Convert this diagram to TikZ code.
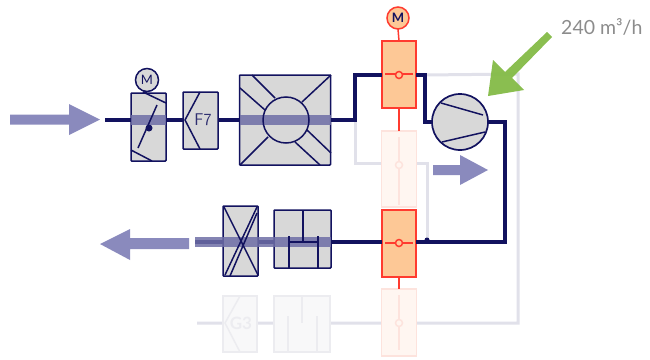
\documentclass[tikz,border=0pt]{standalone}
\usepackage{fontspec}
\setmainfont{Lato}
\definecolor{navy}{HTML}{12125F}
\definecolor{flow}{HTML}{8A8ABD}
\definecolor{bandc}{HTML}{6E6EA6}
\definecolor{boxgray}{HTML}{D8D8D8}
\definecolor{pale}{HTML}{E1E1EA}
\definecolor{palebox}{HTML}{F8F8F9}
\definecolor{palefg}{HTML}{ECECF0}
\definecolor{redl}{HTML}{FF3B2F}
\definecolor{orangef}{HTML}{FDC896}
\definecolor{palered}{HTML}{FDE3DD}
\definecolor{palerf}{HTML}{FFF6F1}
\definecolor{arrowgreen}{HTML}{86BC4A}
\definecolor{labelgray}{HTML}{8C8C8C}
\tikzset{
  unit/.style={draw=navy,fill=boxgray,line width=1.5pt,inner sep=0pt,outer sep=0pt,rounded corners=0.8pt},
  detail/.style={draw=navy,line width=1.5pt},
  duct/.style={draw=navy,line width=4.5pt,line join=miter},
  paleduct/.style={draw=pale,line width=3pt},
  band/.style={fill=bandc,fill opacity=0.85,draw=none},
  valve/.style={draw=redl,fill=orangef,line width=1.5pt,inner sep=0pt,outer sep=0pt},
  palevalve/.style={draw=palered,fill=palerf,line width=1.5pt,inner sep=0pt,outer sep=0pt},
  redline/.style={draw=redl,line width=1.5pt},
  palefine/.style={draw=palered,line width=1.5pt},
  paleunit/.style={draw=palefg,fill=palebox,line width=1.5pt,inner sep=0pt,outer sep=0pt},
  palestroke/.style={draw=palefg,line width=1.5pt},
  motor/.style={circle,draw=navy,fill=boxgray,line width=1.5pt,inner sep=0pt,minimum size=23pt,text=navy,font=\fontsize{13}{13}\selectfont},
  flowarrow/.style={fill=flow,draw=none},
}
\begin{document}
\begin{tikzpicture}[x=1pt,y=-1pt]
\useasboundingbox (0,0) rectangle (650,359);
% waypoints
\coordinate (inS) at (105,120);
\coordinate (outE) at (195,242);
\coordinate (paleE) at (197,323);
\coordinate (up1) at (355,120);
\coordinate (up2) at (355,75);
\coordinate (dn1) at (425,75);
\coordinate (dn2) at (425,122);
\coordinate (r1) at (505,122);
\coordinate (r2) at (505,242);
\coordinate (fr1) at (518,74);
\coordinate (fr2) at (518,323);
\coordinate (by1) at (355,163);
\coordinate (by2) at (427,163);
\coordinate (by3) at (427,242);
% pale ducts (behind)
\draw[paleduct] (paleE) -- (fr2) -- (fr1) -- (dn1);
\draw[paleduct] (up1) -- (by1) -- (by2) -- (by3);
% pale units
\node[palevalve,minimum width=35pt,minimum height=76pt] (pv1) at (399,169) {};
\node[palevalve,minimum width=35pt,minimum height=67pt] (pv2) at (399,322.5) {};
\node[paleunit,minimum width=34pt,minimum height=56pt] (pg3) at (240,324) {};
\node[paleunit,minimum width=56pt,minimum height=56pt] (psil) at (302,324) {};
\draw[palefine] (pv1.north) ++(0,6) -- (399,205);
\draw[palefine] (pv2.north) ++(0,6) -- (399,350);
\draw[fill=palerf,palefine] (399,165) circle (3.5pt);
\draw[fill=palerf,palefine] (399,323) circle (3.5pt);
\draw[palestroke] (240,296) -- (225,323) -- (240,352);
\node[text=palefg,font=\fontsize{17}{17}\selectfont\bfseries] (g3txt) at (241,323) {G3};
\draw[palestroke,line width=2pt] (302,296) -- (302,323) (288,316) -- (288,352) (317,316) -- (317,352);
% main units
\node[motor] (m1) at (147,80) {M};
\node[unit,minimum width=35pt,minimum height=68pt] (dmp) at (148.5,127) {};
\node[unit,minimum width=35pt,minimum height=57pt] (f7) at (200.5,120.5) {};
\node[unit,minimum width=91pt,minimum height=90pt] (fan) at (285,120) {};
\node[unit,minimum width=35pt,minimum height=70pt] (xbox) at (240.5,241) {};
\node[unit,minimum width=57pt,minimum height=58pt] (sil) at (302.5,239) {};
\node[circle,draw=navy,fill=boxgray,line width=1.7pt,minimum size=56pt,inner sep=0pt,outer sep=0pt] (comp) at (460,122) {};
\node[valve,minimum width=34pt,minimum height=67pt] (v1) at (399,74.5) {};
\node[valve,minimum width=34pt,minimum height=67pt] (v2) at (399,243.5) {};
\node[circle,draw=redl,fill=orangef,line width=1.5pt,minimum size=22pt,inner sep=0pt,outer sep=0pt,font=\fontsize{13}{13}\selectfont\bfseries,text=navy] (m2) at (398,18) {M};
% connectors
\draw[duct] (inS) -- (dmp.west |- inS);
\draw[duct] (dmp.east |- inS) -- (f7.west |- inS);
\draw[duct] (f7.east |- inS) -- (fan.west |- inS);
\draw[duct] (fan.east |- inS) -- (up1) -- (up2) -- (v1.west |- up2);
\draw[duct] (v1.east |- dn1) -- (dn1) -- (dn2) -- (comp.west);
\draw[duct] (comp.east) -- (r1) -- (r2) -- (v2.east |- r2);
\draw[duct] (v2.west |- r2) -- (sil.east |- r2);
\draw[duct] (sil.west |- r2) -- (xbox.east |- r2);
\draw[duct] (xbox.west |- r2) -- (outE);
\draw[redline] (m2.south) -- (v1.north);
\draw[redline] (v1.south) -- (pv1.north);
\draw[redline] (v2.south) -- (pv2.north);
\draw[detail] (m1.south) -- (143,92);
\fill[navy] (427,240) circle (2.5pt);
% bands
\fill[band] (131,115) rectangle (166,125);
\fill[band] (240,115) rectangle (331,125);
\fill[band] (195,237) rectangle (331,247);
% damper
\draw[detail] (143,92) -- (166,103) (131,150) -- (152,161) (138,148) -- (157,105);
\fill[navy] (149,128) circle (3.5pt);
% filter
\draw[detail] (200,92) -- (185,120) -- (200,149);
\node[text=navy,text opacity=0.85,font=\fontsize{17}{17}\selectfont\sffamily] (f7txt) at (203,120) {F7};
% fan
\node[circle,draw=navy,line width=1.5pt,minimum size=46pt,inner sep=0pt,outer sep=0pt] (wheel) at (286,120) {};
\draw[detail] (331,75) -- (302,102) (240,165) -- (268,137) (252,75) -- (275,98) (240,88) -- (265,110)
  (307,130) -- (331,153) (295,142) -- (320,165);
% compressor
\draw[detail] (441,103) -- (483,115) (442,142) -- (485,132);
% x box
\draw[detail] (224,207) -- (258,275) (257,207) -- (225,275) (257,213) -- (230,276);
% silencer
\draw[detail] (303,210) -- (303,242) (289,236) -- (289,268) (318,236) -- (318,268) (289,242) -- (318,242);
% valve spindles
\draw[redline] (385,74) -- (413,74);
\draw[redline,fill=orangef] (399,75) circle (3.5pt);
\draw[redline] (385,243) -- (413,243);
\draw[redline,fill=orangef] (399,243) circle (3.5pt);
% flow arrows
\fill[flowarrow] (10,114.5) -- (69,114.5) -- (69,104) -- (100,119.5) -- (69,135) -- (69,124.5) -- (10,124.5) -- cycle;
\fill[flowarrow] (189,238) -- (130,238) -- (130,229) -- (100,244) -- (130,260) -- (130,249) -- (189,249) -- cycle;
\fill[flowarrow] (433,165) -- (460,165) -- (460,155) -- (488,170) -- (460,185) -- (460,175) -- (433,175) -- cycle;
% green arrow
\fill[arrowgreen,fill opacity=0.97] (547,32) -- (552,37) -- (512,78) -- (524,90) -- (488,96) -- (493,60) -- (505,72) -- cycle;
\node[text=labelgray,anchor=west,inner sep=0pt,font=\fontsize{19.5}{19.5}\selectfont] (lbl) at (561,27) {240 m³/h};
\end{tikzpicture}
\end{document}
